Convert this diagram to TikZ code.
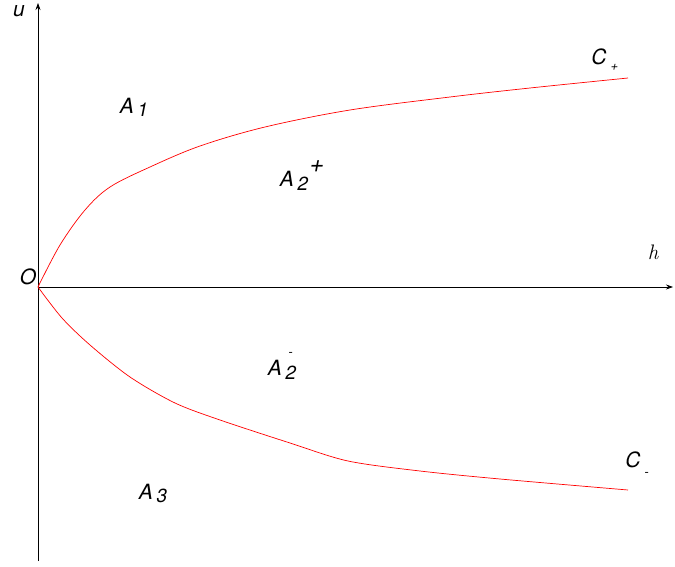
\documentclass[tikz,border=0pt]{standalone}
\usepackage{fontspec}
\setmainfont{TeX Gyre Heros}[FakeSlant=0.2]
\usetikzlibrary{arrows.meta}
\tikzset{
  axis/.style={draw=black, line width=0.7pt, -{Stealth[length=7pt,width=5pt]}},
  curve/.style={draw=red, line width=0.7pt},
  lbl/.style={inner sep=0pt, font=\fontsize{21}{23}\selectfont},
  idx/.style={inner sep=0pt, font=\fontsize{19}{20}\selectfont},
  script/.style={inner sep=0pt, font=\fontsize{13}{13}\selectfont}
}
\begin{document}
\begin{tikzpicture}[x=1pt,y=-1pt]
\useasboundingbox (0,0) rectangle (675,567);
\coordinate (O) at (38,287);
\coordinate (ytop) at (38,3);
\coordinate (ybot) at (38,561);
\coordinate (xend) at (673,287);
\draw[axis] (ybot) -- (ytop);
\draw[axis] (O) -- (xend);
\draw[curve] plot[smooth, tension=0.55] coordinates {(38,287) (60,245) (85,210) (110,187) (150,167) (200,146) (265,127) (350,110) (450,97) (530,88) (628,78)};
\draw[curve] plot[smooth, tension=0.5] coordinates {(38,287) (62,318) (90,345) (130,377) (175,403) (220,420) (290,443) (348,461) (420,471) (500,479) (628,490)};
\node[lbl] (u) at (18,11) {u};
\node[lbl] (Olab) at (27,277) {O};
\node[lbl] (h) at (653,252) {\fontspec{Latin Modern Roman}\itshape h};
\node[lbl] (A1) at (126,106) {A};
\node[idx] (A1i) at (142,110) {1};
\node[lbl] (A2p) at (286,179) {A};
\node[idx] (A2pi) at (302,184) {2};
\node[inner sep=0pt, font=\fontsize{25}{25}\selectfont] (A2ps) at (316,167) {+};
\node[lbl] (A2m) at (274,368) {A};
\node[idx] (A2mi) at (290,373) {2};
\node[script] (A2ms) at (290,354) {-};
\node[lbl] (A3) at (145,492) {A};
\node[idx] (A3i) at (161,496) {3};
\node[lbl] (Cp) at (598,57) {C};
\node[script] (Cps) at (614,67) {+};
\node[lbl] (Cm) at (632,460) {C};
\node[script] (Cms) at (646,474) {-};
\end{tikzpicture}
\end{document}
